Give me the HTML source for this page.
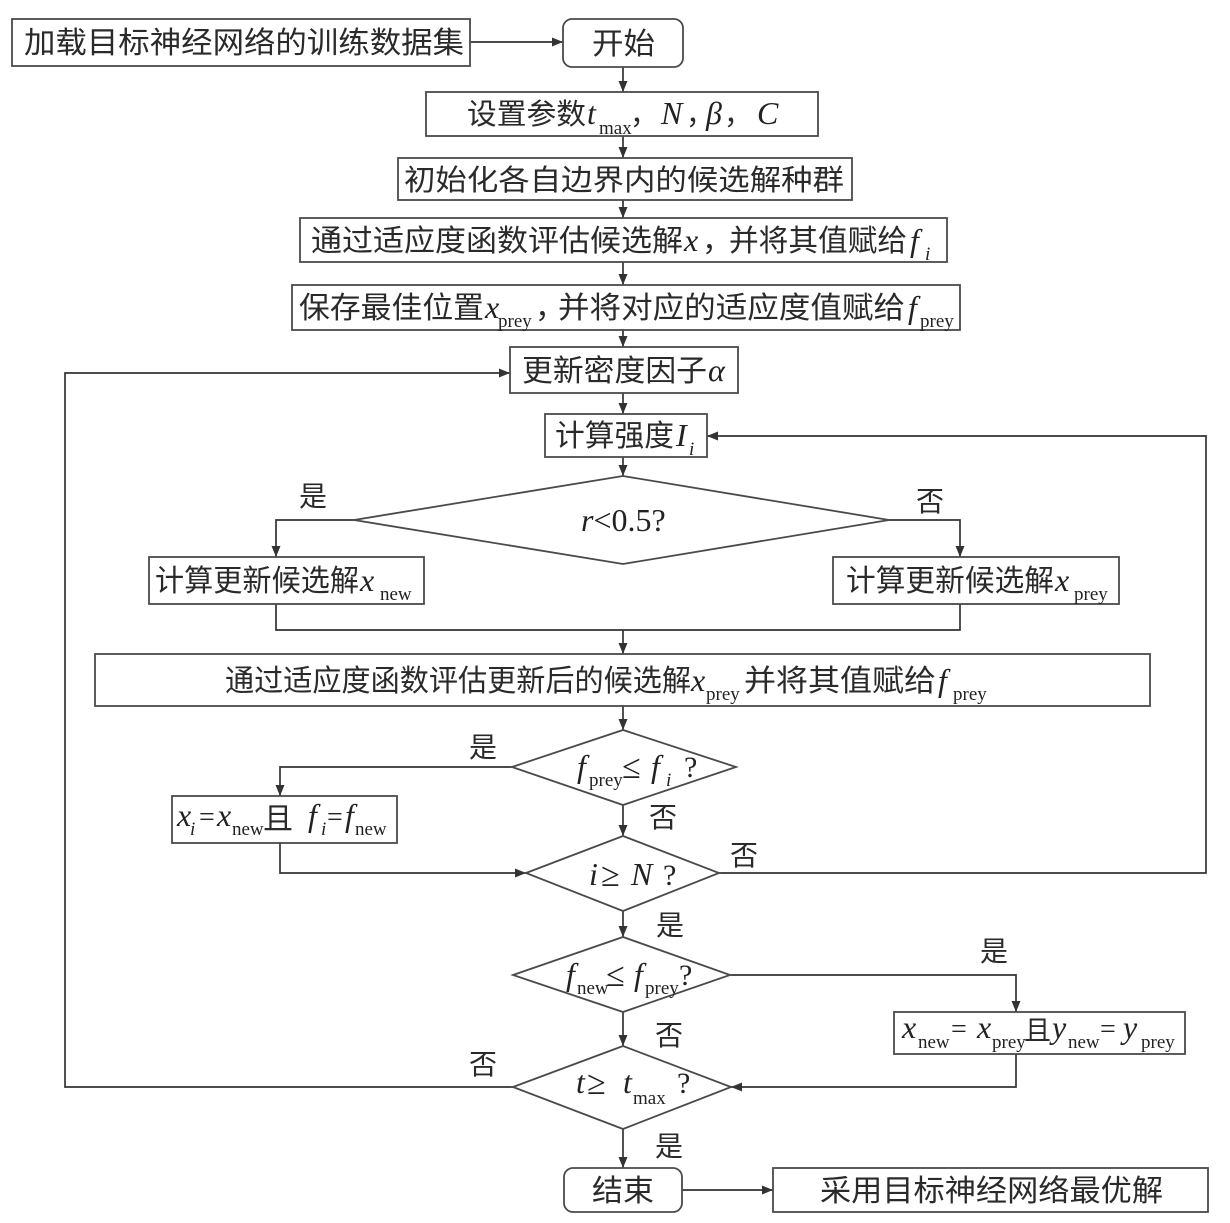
<!DOCTYPE html>
<html><head><meta charset="utf-8">
<style>
html,body{margin:0;padding:0;background:#fff;}
svg{display:block;}
.c{font-family:"Noto Sans CJK SC","WenQuanYi Zen Hei",sans-serif;fill:#2a2a2a;}
.i{font-family:"Liberation Serif",serif;font-style:italic;fill:#222;}
.r{font-family:"Liberation Serif",serif;fill:#222;}
.s{font-family:"Liberation Serif",serif;fill:#222;font-size:19px;}
.b{fill:#fff;stroke:#4a4a4a;stroke-width:1.8;}
.l{fill:none;stroke:#333;stroke-width:1.7;}
</style></head>
<body>
<svg width="1230" height="1223" viewBox="0 0 1230 1223" xmlns="http://www.w3.org/2000/svg">
<defs>
<marker id="a" markerWidth="11" markerHeight="9" refX="11" refY="4.5" orient="auto" markerUnits="userSpaceOnUse">
<path d="M0,0 L11,4.5 L0,9 z" fill="#333"/>
</marker>
</defs>
<rect width="1230" height="1223" fill="#fff"/>

<!-- connectors -->
<g class="l">
<line x1="470" y1="42" x2="563" y2="42" marker-end="url(#a)"/>
<line x1="623" y1="67" x2="623" y2="92" marker-end="url(#a)"/>
<line x1="623" y1="136" x2="623" y2="158" marker-end="url(#a)"/>
<line x1="623" y1="200" x2="623" y2="218" marker-end="url(#a)"/>
<line x1="623" y1="262" x2="623" y2="285" marker-end="url(#a)"/>
<line x1="623" y1="330" x2="623" y2="347" marker-end="url(#a)"/>
<line x1="623" y1="393" x2="623" y2="414" marker-end="url(#a)"/>
<line x1="623" y1="457" x2="623" y2="476" marker-end="url(#a)"/>
<polyline points="354,520 276,520 276,557" marker-end="url(#a)"/>
<polyline points="889,520 960,520 960,557" marker-end="url(#a)"/>
<polyline points="276,604 276,630 960,630 960,604"/>
<line x1="623" y1="630" x2="623" y2="654" marker-end="url(#a)"/>
<line x1="623" y1="706" x2="623" y2="730" marker-end="url(#a)"/>
<polyline points="512,767 280,767 280,796" marker-end="url(#a)"/>
<line x1="623" y1="805" x2="623" y2="836" marker-end="url(#a)"/>
<polyline points="280,843 280,873 526,873" marker-end="url(#a)"/>
<polyline points="719,873 1206,873 1206,436 707,436" marker-end="url(#a)"/>
<line x1="623" y1="911" x2="623" y2="937" marker-end="url(#a)"/>
<polyline points="730,975 1016,975 1016,1012" marker-end="url(#a)"/>
<line x1="623" y1="1012" x2="623" y2="1046" marker-end="url(#a)"/>
<polyline points="1016,1054 1016,1087 731,1087" marker-end="url(#a)"/>
<polyline points="513,1087 65,1087 65,373 510,373" marker-end="url(#a)"/>
<line x1="623" y1="1129" x2="623" y2="1168" marker-end="url(#a)"/>
<line x1="682" y1="1190" x2="773" y2="1190" marker-end="url(#a)"/>
</g>

<!-- boxes -->
<rect class="b" x="12" y="19" width="458" height="47"/>
<rect class="b" x="563" y="19" width="120" height="48" rx="9"/>
<rect class="b" x="426" y="92" width="392" height="44"/>
<rect class="b" x="398" y="158" width="454" height="42"/>
<rect class="b" x="300" y="218" width="647" height="44"/>
<rect class="b" x="292" y="285" width="668" height="45"/>
<rect class="b" x="510" y="347" width="228" height="46"/>
<rect class="b" x="545" y="414" width="162" height="43"/>
<polygon class="b" points="354,520 623,476 889,520 623,564"/>
<rect class="b" x="149" y="557" width="275" height="47"/>
<rect class="b" x="833" y="557" width="286" height="47"/>
<rect class="b" x="95" y="654" width="1055" height="52"/>
<polygon class="b" points="512,767 623,730 736,767 623,805"/>
<rect class="b" x="172" y="796" width="225" height="47"/>
<polygon class="b" points="526,873 623,836 719,873 623,911"/>
<polygon class="b" points="513,975 623,937 730,975 623,1012"/>
<rect class="b" x="894" y="1012" width="291" height="42"/>
<polygon class="b" points="513,1087 623,1046 731,1087 623,1129"/>
<rect class="b" x="564" y="1168" width="118" height="44" rx="9"/>
<rect class="b" x="773" y="1168" width="435" height="44"/>

<!-- texts -->
<text class="c" x="24" y="53" font-size="30" textLength="440" lengthAdjust="spacingAndGlyphs">加载目标神经网络的训练数据集</text>
<text class="c" x="592" y="54" font-size="30" textLength="63" lengthAdjust="spacingAndGlyphs">开始</text>

<text class="c" x="467" y="124" font-size="29" textLength="119" lengthAdjust="spacingAndGlyphs">设置参数</text>
<text class="i" x="587" y="124" font-size="32">t</text>
<text class="s" x="599" y="134">max</text>
<text class="c" x="630" y="124" font-size="28">，</text>
<text class="i" x="661" y="124" font-size="32">N</text>
<text class="c" x="686" y="124" font-size="28">，</text>
<text class="i" x="706" y="124" font-size="32">β</text>
<text class="c" x="724" y="124" font-size="28">，</text>
<text class="i" x="757" y="124" font-size="32">C</text>

<text class="c" x="404" y="190" font-size="29" textLength="440" lengthAdjust="spacingAndGlyphs">初始化各自边界内的候选解种群</text>

<text class="c" x="311" y="251" font-size="30" textLength="372" lengthAdjust="spacingAndGlyphs">通过适应度函数评估候选解</text>
<text class="i" x="684" y="251" font-size="32">x</text>
<text class="c" x="702" y="251" font-size="30">，</text>
<text class="c" x="729" y="251" font-size="30" textLength="178" lengthAdjust="spacingAndGlyphs">并将其值赋给</text>
<text class="i" x="910" y="251" font-size="32">f</text>
<text class="s" x="925" y="260" font-style="italic">i</text>

<text class="c" x="299" y="318" font-size="30" textLength="185" lengthAdjust="spacingAndGlyphs">保存最佳位置</text>
<text class="i" x="485" y="318" font-size="32">x</text>
<text class="s" x="498" y="327">prey</text>
<text class="c" x="535" y="318" font-size="30">，</text>
<text class="c" x="558" y="318" font-size="30" textLength="347" lengthAdjust="spacingAndGlyphs">并将对应的适应度值赋给</text>
<text class="i" x="908" y="318" font-size="32">f</text>
<text class="s" x="920" y="327">prey</text>

<text class="c" x="522" y="381" font-size="30" textLength="185" lengthAdjust="spacingAndGlyphs">更新密度因子</text>
<text class="i" x="708" y="381" font-size="32">α</text>

<text class="c" x="555" y="446" font-size="30" textLength="119" lengthAdjust="spacingAndGlyphs">计算强度</text>
<text class="i" x="676" y="446" font-size="32">I</text>
<text class="s" x="689" y="455" font-style="italic">i</text>

<text x="581" y="531" font-size="32"><tspan class="i">r</tspan><tspan class="r">&lt;0.5?</tspan></text>

<text class="c" x="155" y="591" font-size="30" textLength="204" lengthAdjust="spacingAndGlyphs">计算更新候选解</text>
<text class="i" x="360" y="591" font-size="32">x</text>
<text class="s" x="380" y="600">new</text>

<text class="c" x="846" y="591" font-size="30" textLength="208" lengthAdjust="spacingAndGlyphs">计算更新候选解</text>
<text class="i" x="1055" y="591" font-size="32">x</text>
<text class="s" x="1074" y="600">prey</text>

<text class="c" x="225" y="691" font-size="30" textLength="466" lengthAdjust="spacingAndGlyphs">通过适应度函数评估更新后的候选解</text>
<text class="i" x="691" y="691" font-size="32">x</text>
<text class="s" x="706" y="700">prey</text>
<text class="c" x="744" y="691" font-size="30" textLength="192" lengthAdjust="spacingAndGlyphs">并将其值赋给</text>
<text class="i" x="938" y="691" font-size="32">f</text>
<text class="s" x="953" y="700">prey</text>

<text class="i" x="577" y="777" font-size="32">f</text>
<text class="s" x="589" y="786">prey</text>
<text class="r" x="622" y="778" font-size="34">≤</text>
<text class="i" x="651" y="777" font-size="32">f</text>
<text class="s" x="666" y="786" font-style="italic">i</text>
<text class="r" x="684" y="777" font-size="30">?</text>

<text class="i" x="177" y="826" font-size="32">x</text>
<text class="s" x="190" y="835" font-style="italic">i</text>
<text class="r" x="199" y="826" font-size="28">=</text>
<text class="i" x="217" y="826" font-size="32">x</text>
<text class="s" x="232" y="835">new</text>
<text class="c" x="263" y="829" font-size="30">且</text>
<text class="i" x="308" y="826" font-size="32">f</text>
<text class="s" x="321" y="835" font-style="italic">i</text>
<text class="r" x="327" y="826" font-size="28">=</text>
<text class="i" x="345" y="826" font-size="32">f</text>
<text class="s" x="355" y="835">new</text>

<text class="i" x="589" y="885" font-size="32">i</text>
<text class="r" x="601" y="886" font-size="34">≥</text>
<text class="i" x="631" y="885" font-size="32">N</text>
<text class="r" x="663" y="885" font-size="30">?</text>

<text class="i" x="566" y="985" font-size="32">f</text>
<text class="s" x="577" y="994">new</text>
<text class="r" x="606" y="986" font-size="34">≤</text>
<text class="i" x="634" y="985" font-size="32">f</text>
<text class="s" x="645" y="994">prey</text>
<text class="r" x="679" y="985" font-size="30">?</text>

<text class="i" x="902" y="1038" font-size="32">x</text>
<text class="s" x="918" y="1048">new</text>
<text class="r" x="951" y="1038" font-size="28">=</text>
<text class="i" x="977" y="1038" font-size="32">x</text>
<text class="s" x="992" y="1048">prey</text>
<text class="c" x="1024" y="1040" font-size="27">且</text>
<text class="i" x="1052" y="1038" font-size="32">y</text>
<text class="s" x="1068" y="1048">new</text>
<text class="r" x="1100" y="1038" font-size="28">=</text>
<text class="i" x="1123" y="1038" font-size="32">y</text>
<text class="s" x="1141" y="1048">prey</text>

<text class="i" x="576" y="1093" font-size="32">t</text>
<text class="r" x="587" y="1094" font-size="34">≥</text>
<text class="i" x="623" y="1093" font-size="32">t</text>
<text class="s" x="633" y="1104">max</text>
<text class="r" x="677" y="1093" font-size="30">?</text>

<text class="c" x="592" y="1201" font-size="30" textLength="62" lengthAdjust="spacingAndGlyphs">结束</text>
<text class="c" x="820" y="1201" font-size="30" textLength="343" lengthAdjust="spacingAndGlyphs">采用目标神经网络最优解</text>

<!-- yes/no labels -->
<g class="c" font-size="28">
<text x="299" y="506">是</text>
<text x="916" y="511">否</text>
<text x="469" y="757">是</text>
<text x="649" y="827">否</text>
<text x="730" y="865">否</text>
<text x="656" y="935">是</text>
<text x="980" y="961">是</text>
<text x="655" y="1045">否</text>
<text x="469" y="1074">否</text>
<text x="655" y="1156">是</text>
</g>
</svg>
</body></html>
